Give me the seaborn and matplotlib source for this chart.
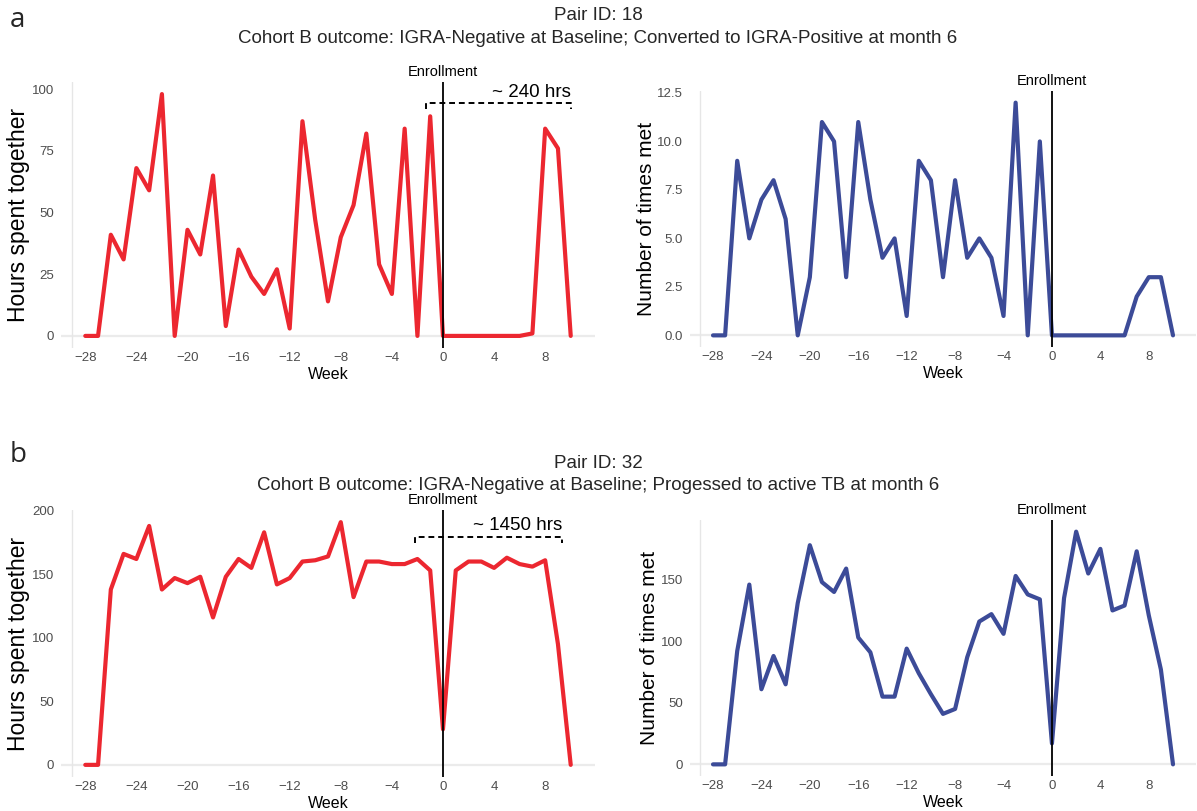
import matplotlib
matplotlib.use("Agg")
import matplotlib.pyplot as plt
import seaborn as sns
import pandas as pd

# ---------------- data ----------------
weeks = list(range(-28, 11))
week_ticks = [-28, -24, -20, -16, -12, -8, -4, 0, 4, 8]
week_tick_labels = ["\u221228", "\u221224", "\u221220", "\u221216", "\u221212",
                    "\u22128", "\u22124", "0", "4", "8"]

a_hours = [0, 0, 41, 31, 68, 59, 98, 0, 43, 33,
           65, 4, 35, 24, 17, 27, 3, 87, 47, 14,
           40, 53, 82, 29, 17, 84, 0, 89,
           0, 0, 0, 0, 0, 0, 0, 1, 84, 76, 0]
a_times = [0, 0, 9, 5, 7, 8, 6, 0, 3, 11,
           10, 3, 11, 7, 4, 5, 1, 9, 8, 3,
           8, 4, 5, 4, 1, 12, 0, 10,
           0, 0, 0, 0, 0, 0, 0, 2, 3, 3, 0]
b_hours = [0, 0, 138, 166, 162, 188, 138, 147, 143, 148,
           116, 148, 162, 155, 183, 142, 147, 160, 161, 164,
           191, 132, 160, 160, 158, 158, 162, 153,
           28, 153, 160, 160, 155, 163, 158, 156, 161, 95, 0]
b_times = [0, 0, 92, 146, 61, 88, 65, 131, 178, 148,
           140, 159, 103, 91, 55, 55, 94, 74, 57, 41,
           45, 87, 116, 122, 106, 153, 138, 134,
           17, 135, 189, 155, 175, 125, 129, 173, 121, 77, 0]

a_hours_ticks = [0, 25, 50, 75, 100]
a_times_ticks = [0, 2.5, 5.0, 7.5, 10.0, 12.5]
b_hours_ticks = [0, 50, 100, 150, 200]
b_times_ticks = [0, 50, 100, 150]

title_a1 = "Pair ID: 18"
title_a2 = "Cohort B outcome: IGRA-Negative at Baseline; Converted to IGRA-Positive at month 6"
title_b1 = "Pair ID: 32"
title_b2 = "Cohort B outcome: IGRA-Negative at Baseline; Progessed to active TB at month 6"

# bracket annotations: (x start, x end, y level, label, label y)
a_bracket = (-1.3, 10.0, 94.2, "~ 240 hrs", 98.5)
b_bracket = (-2.2, 9.3, 179.0, "~ 1450 hrs", 188.0)

RED = "#EC2730"
BLUE = "#3C4B98"

# ---------------- style ----------------
sns.set_theme(style="white")
plt.rcParams["font.family"] = ["Liberation Sans", "DejaVu Sans"]

W, H = 1197, 811
fig = plt.figure(figsize=(W / 100, H / 100), dpi=100)


def add_ax(x0, x1, y0, y1):
    return fig.add_axes([x0 / W, 1 - y1 / H, (x1 - x0) / W, (y1 - y0) / H])


def panel(ax, values, color, ylabel, ylabel_size, yticks, ytick_fmt, bracket=None):
    df = pd.DataFrame({"Week": weeks, "value": values})
    lo, hi = min(values), max(values)
    rng = hi - lo
    ax.set_xlim(-29.9, 11.9)
    ax.set_ylim(lo - 0.05 * rng, hi + 0.05 * rng)
    ax.axhline(0, color="#EBEBEB", lw=1.6, zorder=0)
    ax.axvline(-29.05, color="#E6E6E6", lw=1.0, zorder=0)
    sns.lineplot(data=df, x="Week", y="value", color=color, lw=3.0,
                 estimator=None, ax=ax, zorder=3)
    ax.axvline(0, color="black", lw=1.3, zorder=5)
    ax.annotate("Enrollment", xy=(0, 1), xycoords=("data", "axes fraction"),
                xytext=(0, 2.5), textcoords="offset points",
                ha="center", va="bottom", fontsize=10.5, color="black")
    if bracket is not None:
        x0, x1, yb, txt, yt = bracket
        tick = 0.022 * rng
        ax.plot([x0, x0, x1, x1], [yb - tick, yb, yb, yb - tick],
                color="black", lw=1.4, ls=(0, (3, 2)), zorder=6)
        ax.text(x1, yt, txt, ha="right", va="center", fontsize=13.5,
                color="black", zorder=6)
    for s in ax.spines.values():
        s.set_visible(False)
    ax.set_xticks(week_ticks)
    ax.set_xticklabels(week_tick_labels)
    ax.set_yticks(yticks)
    ax.set_yticklabels([ytick_fmt(v) for v in yticks])
    ax.tick_params(axis="both", length=0, labelsize=9.5, labelcolor="#4D4D4D")
    ax.tick_params(axis="x", pad=3)
    ax.tick_params(axis="y", pad=5)
    ax.set_xlabel("Week", fontsize=11.5, color="black", labelpad=2)
    ax.set_ylabel(ylabel, fontsize=ylabel_size, color="black", labelpad=1)
    ax.grid(False)
    ax.set_facecolor("white")


ax1 = add_ax(61, 595, 82, 348)
ax2 = add_ax(690, 1196, 91, 347)
ax3 = add_ax(61, 595, 510, 777)
ax4 = add_ax(690, 1196, 520, 776)

int_fmt = lambda v: f"{int(v)}"
dec_fmt = lambda v: f"{v:.1f}"

panel(ax1, a_hours, RED, "Hours spent together", 16.5, a_hours_ticks, int_fmt, a_bracket)
panel(ax2, a_times, BLUE, "Number of times met", 15, a_times_ticks, dec_fmt)
panel(ax3, b_hours, RED, "Hours spent together", 16.5, b_hours_ticks, int_fmt, b_bracket)
panel(ax4, b_times, BLUE, "Number of times met", 15, b_times_ticks, int_fmt)

fig.text(598 / W, 1 - 20 / H, title_a1, ha="center", va="baseline", fontsize=13.5)
fig.text(598 / W, 1 - 43 / H, title_a2, ha="center", va="baseline", fontsize=13.5)
fig.text(598 / W, 1 - 468 / H, title_b1, ha="center", va="baseline", fontsize=13.5)
fig.text(598 / W, 1 - 490 / H, title_b2, ha="center", va="baseline", fontsize=13.5)

fig.text(10 / W, 1 - 27 / H, "a", ha="left", va="baseline", fontsize=20,
         family=["Open Sans", "DejaVu Sans"])
fig.text(10 / W, 1 - 462 / H, "b", ha="left", va="baseline", fontsize=20,
         family=["Open Sans", "DejaVu Sans"])

fig.savefig("out.png", dpi=100, facecolor="white")
